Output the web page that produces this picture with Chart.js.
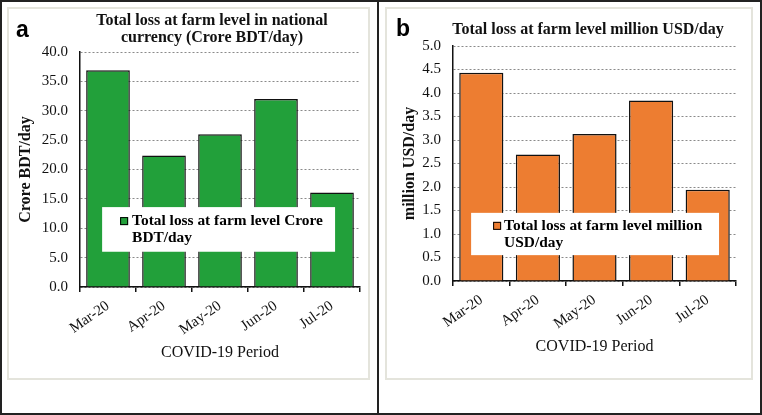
<!DOCTYPE html>
<html><head><meta charset="utf-8">
<script src="https://cdn.jsdelivr.net/npm/chart.js@4.4.1/dist/chart.umd.min.js"></script>
<style>
html,body{margin:0;padding:0;background:#fff;}
#frame{position:absolute;left:0;top:0;width:762px;height:415px;box-sizing:border-box;border:2px solid #222;}
#divider{position:absolute;left:377px;top:0;width:2px;height:415px;background:#222;}
.box{position:absolute;box-sizing:border-box;border:2px solid #e4e4dc;background:#fff;}
.tag{position:absolute;font:bold 23px "Liberation Sans",Arial,sans-serif;line-height:1;color:#000;}
.cv{position:absolute;}
</style></head>
<body>
<div id="frame"></div>
<div id="divider"></div>
<div class="box" style="left:7px;top:7px;width:363px;height:373px;"></div>
<div class="box" style="left:385px;top:7px;width:368px;height:373px;"></div>
<div class="cv" style="left:9px;top:9px;width:359px;height:369px;"><canvas id="ca"></canvas></div>
<div class="cv" style="left:387px;top:9px;width:364px;height:369px;"><canvas id="cb"></canvas></div>
<div class="tag" style="left:16px;top:18px;">a</div>
<div class="tag" style="left:396px;top:17px;">b</div>
<script>
const categories = ['Mar-20', 'Apr-20', 'May-20', 'Jun-20', 'Jul-20'];
const lossCroreBDT = [36.9, 22.4, 26.0, 32.0, 16.1];
const lossMillionUSD = [4.43, 2.69, 3.13, 3.84, 1.94];
const titleA = ['Total loss at farm level in national', 'currency (Crore BDT/day)'];
const titleB = ['Total loss at farm level million USD/day'];
const yTitleA = 'Crore BDT/day';
const yTitleB = 'million USD/day';
const xTitle = 'COVID-19 Period';
const legendA = ['Total loss at farm level Crore', 'BDT/day'];
const legendB = ['Total loss at farm level million', 'USD/day'];

const SERIF = '"Liberation Serif","Times New Roman",serif';

const boxLegend = {
  id: 'boxLegend',
  afterDatasetsDraw(chart, args, o) {
    const {ctx, chartArea: ca} = chart;
    const x0 = ca.left + o.fx0 * ca.width, x1 = ca.left + o.fx1 * ca.width;
    const y0 = ca.top + o.fy0 * ca.height, y1 = ca.top + o.fy1 * ca.height;
    ctx.save();
    ctx.fillStyle = '#fff';
    ctx.fillRect(x0, y0, x1 - x0, y1 - y0);
    const ds = chart.data.datasets[0];
    ctx.fillStyle = ds.backgroundColor;
    ctx.fillRect(x0 + o.mx, y0 + o.my, 8, 8);
    ctx.strokeStyle = '#000';
    ctx.lineWidth = 1;
    ctx.strokeRect(x0 + o.mx + 0.5, y0 + o.my + 0.5, 7, 7);
    ctx.fillStyle = '#000';
    ctx.font = 'bold 15.4px ' + SERIF;
    ctx.textBaseline = 'middle';
    o.lines.forEach((t, i) => ctx.fillText(t, x0 + o.tx, y0 + o.ty + i * o.lh));
    ctx.restore();
  }
};

const topTitle = {
  id: 'topTitle',
  afterDraw(chart, args, o) {
    const {ctx} = chart;
    ctx.save();
    ctx.fillStyle = '#111';
    ctx.font = 'bold 16px ' + SERIF;
    ctx.textAlign = 'center';
    ctx.textBaseline = 'alphabetic';
    o.lines.forEach((t, i) => ctx.fillText(t, o.cx, o.base + i * o.lh));
    ctx.restore();
  }
};

function makeChart(id, values, color, title, yTitle, ymax, step, layout, legend) {
  return new Chart(document.getElementById(id), {
    type: 'bar',
    data: {
      labels: categories,
      datasets: [{
        label: legend.lines.join(' '),
        data: values,
        backgroundColor: color,
        borderColor: '#111',
        borderWidth: 1.5,
        borderSkipped: 'bottom',
        categoryPercentage: 1.0,
        barPercentage: 0.78
      }]
    },
    options: {
      responsive: true,
      maintainAspectRatio: false,
      animation: false,
      devicePixelRatio: 1,
      layout: {padding: {left: layout.padL, right: layout.padR, top: layout.padT, bottom: layout.padB}},
      plugins: {
        legend: {display: false},
        tooltip: {enabled: false},
        title: {display: false},
        topTitle: {lines: title, cx: layout.tcx, base: layout.tBase, lh: 17},
        boxLegend: legend
      },
      scales: {
        x: {
          grid: {display: true, drawOnChartArea: false, drawTicks: true, tickLength: 5, color: '#111', lineWidth: 1.5, offset: true},
          border: {display: true, color: '#111', width: 1.5},
          ticks: {color: '#111', font: {family: SERIF, size: 15}, minRotation: 35, maxRotation: 35, padding: 5},
          title: {display: true, text: xTitle, color: '#111', font: {family: SERIF, size: 16}, padding: {top: 0, bottom: 0}},
          afterFit: s => { s.height = layout.xh; }
        },
        y: {
          min: 0, max: ymax,
          grid: {display: true, drawTicks: false, color: '#8a8a8a', lineWidth: 1},
          border: {display: true, color: '#111', width: 1.5, dash: [2, 2]},
          ticks: {stepSize: step, color: '#111', font: {family: SERIF, size: 15}, padding: 12,
                  callback: v => Number(v).toFixed(1)},
          title: {display: true, text: yTitle, color: '#111', font: {family: SERIF, size: 16, weight: 'bold'}, padding: {top: 0, bottom: 0}},
          afterFit: s => { s.width = layout.yw; }
        }
      }
    },
    plugins: [boxLegend, topTitle]
  });
}

makeChart('ca', lossCroreBDT, '#22a03a', titleA, yTitleA, 40, 5,
  {padL: 7, yw: 64, padR: 8, padT: 43, padB: 16, xh: 75, tcx: 203, tBase: 16},
  {lines: legendA, fx0: 0.079, fx1: 0.911, fy0: 0.66, fy1: 0.85, mx: 18, my: 10, tx: 30, ty: 14, lh: 17});
makeChart('cb', lossMillionUSD, '#ed7d31', titleB, yTitleB, 5, 0.5,
  {padL: 13, yw: 53, padR: 15, padT: 37, padB: 22, xh: 75, tcx: 201, tBase: 25},
  {lines: legendB, fx0: 0.064, fx1: 0.94, fy0: 0.71, fy1: 0.89, mx: 22, my: 9, tx: 33, ty: 13, lh: 17});
</script>
</body></html>
